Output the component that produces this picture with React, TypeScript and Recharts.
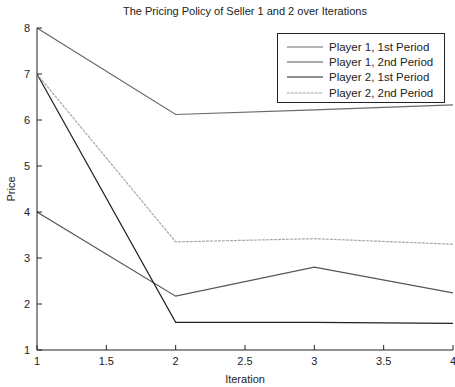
import React from "react";
import { LineChart, Line, XAxis, YAxis, Legend } from "recharts";

const iterations = [1, 2, 3, 4];
const p1First = [8, 6.12, 6.22, 6.33];
const p1Second = [4, 2.17, 2.8, 2.24];
const p2First = [7, 1.6, 1.6, 1.58];
const p2Second = [7, 3.35, 3.42, 3.3];

const xTicks = [1, 1.5, 2, 2.5, 3, 3.5, 4];
const yTicks = [1, 2, 3, 4, 5, 6, 7, 8];

const series = [
  { key: "p1First", name: "Player 1, 1st Period", color: "#6a6a6a", dash: undefined },
  { key: "p1Second", name: "Player 1, 2nd Period", color: "#555555", dash: undefined },
  { key: "p2First", name: "Player 2, 1st Period", color: "#222222", dash: undefined },
  { key: "p2Second", name: "Player 2, 2nd Period", color: "#a8a8a8", dash: "3 1" },
];

const data = iterations.map((it, i) => ({
  it,
  p1First: p1First[i],
  p1Second: p1Second[i],
  p2First: p2First[i],
  p2Second: p2Second[i],
}));

const font = "'Liberation Sans', Arial, sans-serif";
const tickStyle = { fontSize: 11, fill: "#222", fontFamily: font };

const LegendBox = () => (
  <div style={{
    border: "1px solid #222",
    background: "#fff",
    width: 168,
    height: 70,
    boxSizing: "border-box",
    padding: "5px 0 0 9px",
    fontFamily: font,
    fontSize: 11.5,
    color: "#222",
  }}>
    {series.map((s) => (
      <div key={s.key} style={{ display: "flex", alignItems: "center", height: 15.3 }}>
        <svg width={36} height={4} style={{ marginRight: 6 }}>
          <line x1={0} y1={2} x2={36} y2={2} stroke={s.color} strokeWidth={1.2} strokeDasharray={s.dash} />
        </svg>
        <span>{s.name}</span>
      </div>
    ))}
  </div>
);

const App: React.FC = () => {
  return (
    <div style={{ position: "absolute", left: 0, top: 0, width: 455, height: 387, background: "#fff" }}>
      <div style={{
        position: "absolute",
        top: 5,
        left: 37,
        width: 416,
        textAlign: "center",
        fontFamily: font,
        fontSize: 11,
        color: "#222",
      }}>
        The Pricing Policy of Seller 1 and 2 over Iterations
      </div>
      <LineChart width={455} height={387} data={data} margin={{ top: 28, right: 2, bottom: 0, left: 0 }}>
        <XAxis
          dataKey="it"
          type="number"
          domain={[1, 4]}
          ticks={xTicks}
          tick={tickStyle}
          tickSize={-5}
          tickMargin={12}
          height={37}
          axisLine={{ stroke: "#222" }}
          tickLine={{ stroke: "#222" }}
          interval={0}
          allowDataOverflow
          label={{ value: "Iteration", position: "insideBottom", offset: 4, style: { fontSize: 11, fill: "#222", fontFamily: font } }}
        />
        <XAxis
          xAxisId="top"
          dataKey="it"
          type="number"
          orientation="top"
          domain={[1, 4]}
          ticks={xTicks}
          tickFormatter={() => ""}
          tickSize={-5}
          height={0}
          axisLine={{ stroke: "#222" }}
          tickLine={{ stroke: "#222" }}
          interval={0}
        />
        <YAxis
          type="number"
          domain={[1, 8]}
          ticks={yTicks}
          tick={tickStyle}
          tickSize={-5}
          tickMargin={12}
          width={37}
          axisLine={{ stroke: "#222" }}
          tickLine={{ stroke: "#222" }}
          interval={0}
          label={{ value: "Price", angle: -90, position: "center", dx: -7, style: { fontSize: 11, fill: "#222", fontFamily: font } }}
        />
        <YAxis
          yAxisId="right"
          orientation="right"
          type="number"
          domain={[1, 8]}
          ticks={yTicks}
          tickFormatter={() => ""}
          tickSize={-5}
          width={0}
          axisLine={{ stroke: "#222" }}
          tickLine={{ stroke: "#222" }}
          interval={0}
        />
        <Legend
          layout="vertical"
          align="center"
          verticalAlign="middle"
          content={<LegendBox />}
          wrapperStyle={{ position: "absolute", top: 33, left: 277, width: 168, height: 70 }}
        />
        {series.map((s) => (
          <Line
            key={s.key}
            dataKey={s.key}
            name={s.name}
            type="linear"
            stroke={s.color}
            strokeWidth={1.2}
            strokeDasharray={s.dash}
            dot={false}
            activeDot={false}
            isAnimationActive={false}
          />
        ))}
      </LineChart>
    </div>
  );
};

export default App;
